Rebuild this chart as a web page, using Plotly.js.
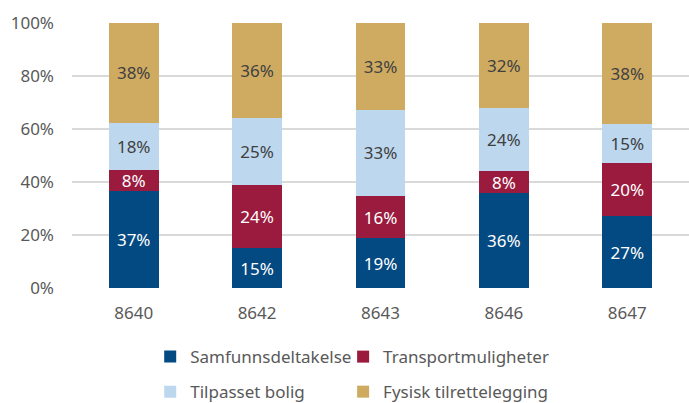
<!DOCTYPE html>
<html>
<head>
<meta charset="utf-8">
<script src="https://cdn.plot.ly/plotly-3.0.1.min.js"></script>
<style>html,body{margin:0;padding:0;background:#fff}#chart{width:689px;height:403px}</style>
</head>
<body>
<div id="chart"></div>
<script>
const categories = ['8640', '8642', '8643', '8646', '8647'];
const seriesNames = ['Samfunnsdeltakelse', 'Transportmuligheter', 'Tilpasset bolig', 'Fysisk tilrettelegging'];
const samfunnsdeltakelse = [37, 15, 19, 36, 27];
const transportmuligheter = [8, 24, 16, 8, 20];
const tilpassetBolig = [18, 25, 33, 24, 15];
const fysiskTilrettelegging = [38, 36, 33, 32, 38];
const yTickVals = [0, 20, 40, 60, 80, 100];
const yTickText = ['0%', '20%', '40%', '60%', '80%', '100%'];

const colors = ['#044A82', '#9B1B3E', '#BDD7EE', '#CFAB62'];
const textColors = ['#FFFFFF', '#FFFFFF', '#404040', '#404040'];
const allSeries = [samfunnsdeltakelse, transportmuligheter, tilpassetBolig, fysiskTilrettelegging];
const FONT = 'Noto Sans, sans-serif';
const legendIds = ['legend', 'legend2', 'legend3', 'legend4'];

const traces = allSeries.map((vals, i) => ({
  type: 'bar',
  name: seriesNames[i],
  x: categories,
  y: vals,
  text: vals.map(v => v + '%'),
  textposition: 'inside',
  insidetextanchor: 'middle',
  textangle: 0,
  constraintext: 'none',
  textfont: {family: FONT, size: 17, color: textColors[i]},
  hoverinfo: 'skip',
  marker: {color: colors[i], line: {width: 0}},
  legend: legendIds[i]
}));

const legendCommon = {
  orientation: 'h',
  xref: 'container',
  yref: 'container',
  xanchor: 'left',
  yanchor: 'middle',
  font: {family: FONT, size: 17, color: '#595959'},
  itemwidth: 30,
  traceorder: 'normal',
  bgcolor: 'rgba(0,0,0,0)',
  itemclick: false
};
const legendX = [0.218, 0.498, 0.218, 0.498];
const legendY = [0.114, 0.114, 0.027, 0.027];

const layout = {
  width: 689,
  height: 403,
  margin: {l: 72, r: 0, t: 22.7, b: 115.3},
  paper_bgcolor: '#FFFFFF',
  plot_bgcolor: '#FFFFFF',
  barmode: 'stack',
  bargap: 0.595,
  barnorm: 'percent',
  showlegend: true,
  uniformtext: {mode: 'show', minsize: 17},
  font: {family: FONT, size: 17, color: '#595959'},
  xaxis: {
    type: 'category',
    showgrid: false,
    zeroline: false,
    showline: false,
    ticks: '',
    tickfont: {family: FONT, size: 17, color: '#595959'},
    ticklabelstandoff: 13,
    automargin: false
  },
  yaxis: {
    range: [0, 100],
    tickvals: yTickVals,
    ticktext: yTickText,
    showgrid: true,
    gridcolor: '#D9D9D9',
    gridwidth: 1.5,
    zeroline: false,
    showline: false,
    ticks: '',
    tickfont: {family: FONT, size: 17, color: '#595959'},
    ticklabelstandoff: 17,
    automargin: false
  }
};
legendIds.forEach((id, i) => {
  layout[id] = Object.assign({}, legendCommon, {x: legendX[i], y: legendY[i]});
});

Plotly.newPlot('chart', traces, layout, {staticPlot: true, displayModeBar: false});
</script>
</body>
</html>
